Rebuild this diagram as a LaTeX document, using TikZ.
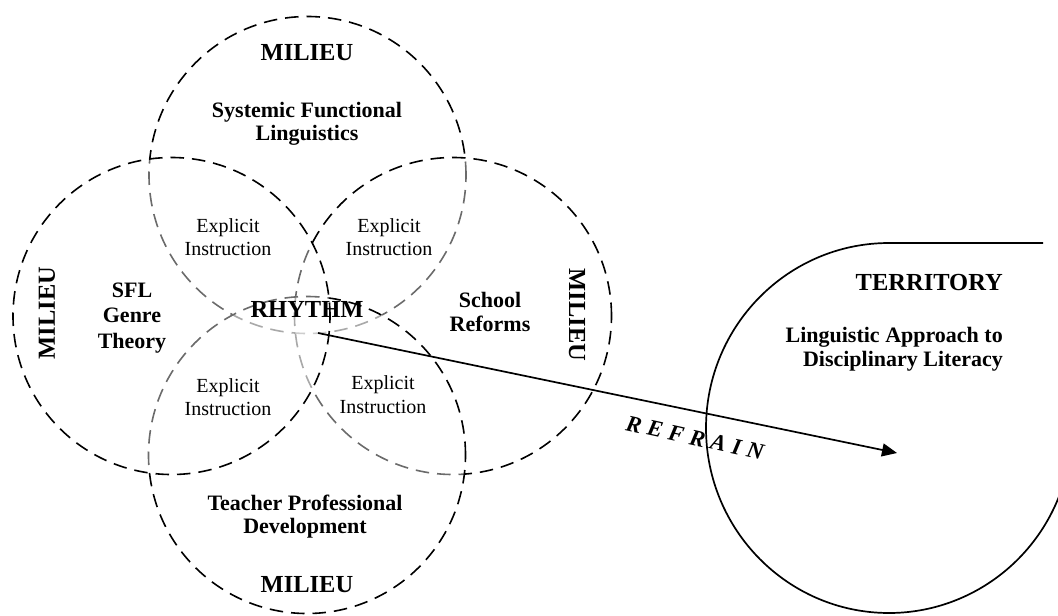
\documentclass[tikz,border=0pt]{standalone}
\usepackage{fontspec}
\setmainfont{Liberation Serif}
\usetikzlibrary{arrows.meta}
\tikzset{
  milieu/.style={circle, draw=black, line width=1.6pt, dash pattern=on 13.5pt off 8pt,
    fill=white, fill opacity=0.42, minimum size=317pt, inner sep=0pt},
  lbl/.style={font=\fontsize{22}{24}\selectfont\bfseries, inner sep=0pt, anchor=base},
  bigl/.style={font=\fontsize{24.5}{26}\selectfont\bfseries, inner sep=0pt, anchor=base},
  rotl/.style={font=\fontsize{24.5}{26}\selectfont\bfseries, inner sep=0pt},
  expl/.style={font=\fontsize{20}{23}\selectfont, inner sep=0pt, anchor=base},
  terr/.style={line width=1.7pt},
  refr/.style={line width=1.7pt, -{Triangle[length=15pt, width=13pt]}},
}
\newcommand{\lsp}{\hspace{6.3pt}}
\begin{document}
\begin{tikzpicture}[x=1pt, y=-1pt]
\useasboundingbox (0,0) rectangle (1058,616);
\clip (0,0) rectangle (1058,616);
% circles, from bottom layer to top layer
\node[milieu] (ctop) at (307.5,175) {};
\node[milieu] (cright) at (453,316) {};
\node[milieu] (cbottom) at (307,455) {};
\node[milieu] (cleft) at (171.5,316) {};
% territory
\coordinate (ttop) at (889,243);
\coordinate (tend) at (1043,243);
\draw[terr] (tend) -- (ttop) arc[start angle=-90, end angle=-340, x radius=183, y radius=185];
% refrain arrow
\coordinate (rstart) at (318,333);
\coordinate (rend) at (897,453);
\draw[refr] (rstart) -- (rend);
% labels
\node[bigl] (m1) at (307,60) {MILIEU};
\node[lbl] (sfl1) at (307,117) {Systemic Functional};
\node[lbl] (sfl2) at (307,140) {Linguistics};
\node[expl] (e1a) at (228,232) {Explicit};
\node[expl] (e1b) at (228,255) {Instruction};
\node[expl] (e2a) at (389,232) {Explicit};
\node[expl] (e2b) at (389,255) {Instruction};
\node[lbl] (g1) at (132,297) {SFL};
\node[lbl] (g2) at (132,322) {Genre};
\node[lbl] (g3) at (132,348) {Theory};
\node[rotl, rotate=90] (m2) at (47,313) {MILIEU};
\node[bigl, font=\fontsize{24.5}{26}\selectfont\bfseries] (rh) at (307,317) {RHYTHM};
\node[lbl] (s1) at (490,307) {School};
\node[lbl] (s2) at (490,331) {Reforms};
\node[rotl, rotate=-90] (m3) at (577,315) {MILIEU};
\node[expl] (e3a) at (228,392) {Explicit};
\node[expl] (e3b) at (228,415) {Instruction};
\node[expl] (e4a) at (383,389) {Explicit};
\node[expl] (e4b) at (383,413) {Instruction};
\node[lbl] (t1) at (305,510) {Teacher Professional};
\node[lbl] (t2) at (305,533) {Development};
\node[bigl] (m4) at (307,592) {MILIEU};
\node[bigl, anchor=base east] (ter) at (1003,290) {TERRITORY};
\node[lbl, anchor=base east] (la1) at (1003,342) {Linguistic Approach to};
\node[lbl, anchor=base east] (la2) at (1003,366) {Disciplinary Literacy};
\node[font=\fontsize{23}{25}\selectfont\bfseries\itshape, inner sep=0pt, rotate=-12.5] (refrain) at (695,438) {R\lsp E\lsp F\lsp R\lsp A\lsp I\lsp N};
\end{tikzpicture}
\end{document}
